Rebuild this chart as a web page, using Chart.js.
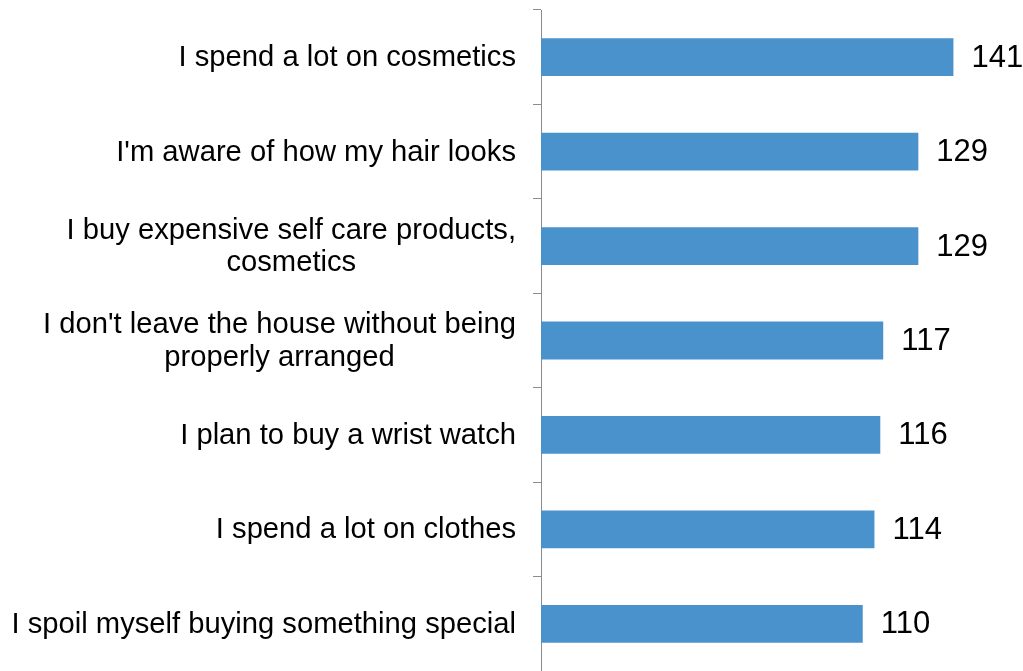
<!DOCTYPE html>
<html>
<head>
<meta charset="utf-8">
<title>Self care habits</title>
<script src="https://cdn.jsdelivr.net/npm/chart.js@4.4.1/dist/chart.umd.min.js"></script>
<style>
  html, body { margin: 0; padding: 0; background: #fff; }
  #wrap { width: 1023px; height: 671px; }
</style>
</head>
<body>
<div id="wrap"><canvas id="habitsChart"></canvas></div>
<script>
const categories = [
  'I spend a lot on cosmetics',
  "I'm aware of how my hair looks",
  ['I buy expensive self care products,', 'cosmetics'],
  ["I don't leave the house without being", 'properly arranged'],
  'I plan to buy a wrist watch',
  'I spend a lot on clothes',
  'I spoil myself buying something special',
];

const indexValues = [141, 129, 129, 117, 116, 114, 110];

const barColor = '#4a92cb';
const axisColor = '#8c8c8c';
const fontFamily = "'Liberation Sans', Arial, sans-serif";
const labelSize = 29.2;
const valueSize = 31;

// category labels: right aligned against the axis, wrapped lines centred on the widest one
const categoryLabels = {
  id: 'categoryLabels',
  afterDraw(chart) {
    const { ctx } = chart;
    const yScale = chart.scales.y;
    const right = chart.chartArea.left - 25;
    const lineHeight = labelSize * 1.1;
    ctx.save();
    ctx.font = `${labelSize}px ${fontFamily}`;
    ctx.fillStyle = '#000';
    ctx.textAlign = 'center';
    ctx.textBaseline = 'middle';
    categories.forEach((label, i) => {
      const lines = Array.isArray(label) ? label : [label];
      const widest = Math.max(...lines.map((l) => ctx.measureText(l).width));
      const cx = right - widest / 2;
      const cy = yScale.getPixelForTick(i) + 1;
      const top = cy - ((lines.length - 1) * lineHeight) / 2;
      lines.forEach((line, j) => ctx.fillText(line, cx, top + j * lineHeight));
    });
    ctx.restore();
  },
};

// value printed just past the end of each bar
const valueLabels = {
  id: 'valueLabels',
  afterDatasetsDraw(chart) {
    const { ctx } = chart;
    const meta = chart.getDatasetMeta(0);
    ctx.save();
    ctx.font = `${valueSize}px ${fontFamily}`;
    ctx.fillStyle = '#000';
    ctx.textAlign = 'left';
    ctx.textBaseline = 'middle';
    meta.data.forEach((bar, i) => {
      ctx.fillText(String(indexValues[i]), bar.x + 18, bar.y + 1);
    });
    ctx.restore();
  },
};

function initHabitsChart() {
  const ctx = document.getElementById('habitsChart');
  if (!ctx || typeof Chart === 'undefined') return;

  new Chart(ctx, {
    type: 'bar',
    data: {
      labels: categories,
      datasets: [{
        data: indexValues,
        backgroundColor: barColor,
        borderWidth: 0,
        categoryPercentage: 0.8,
        barPercentage: 0.5,
      }],
    },
    options: {
      indexAxis: 'y',
      responsive: true,
      maintainAspectRatio: false,
      animation: false,
      layout: {
        padding: { left: 533, right: 14, top: 10, bottom: 0 },
      },
      plugins: {
        legend: { display: false },
        tooltip: { enabled: false },
      },
      scales: {
        x: {
          display: false,
          min: 0,
          max: 160,
        },
        y: {
          offset: true,
          border: { display: true, color: axisColor, width: 1 },
          grid: {
            offset: true,
            drawOnChartArea: false,
            drawTicks: true,
            tickLength: 8,
            color: axisColor,
          },
          ticks: { display: false },
        },
      },
    },
    plugins: [categoryLabels, valueLabels],
  });
}

window.addEventListener('DOMContentLoaded', () => {
  initHabitsChart();
});
</script>
</body>
</html>
